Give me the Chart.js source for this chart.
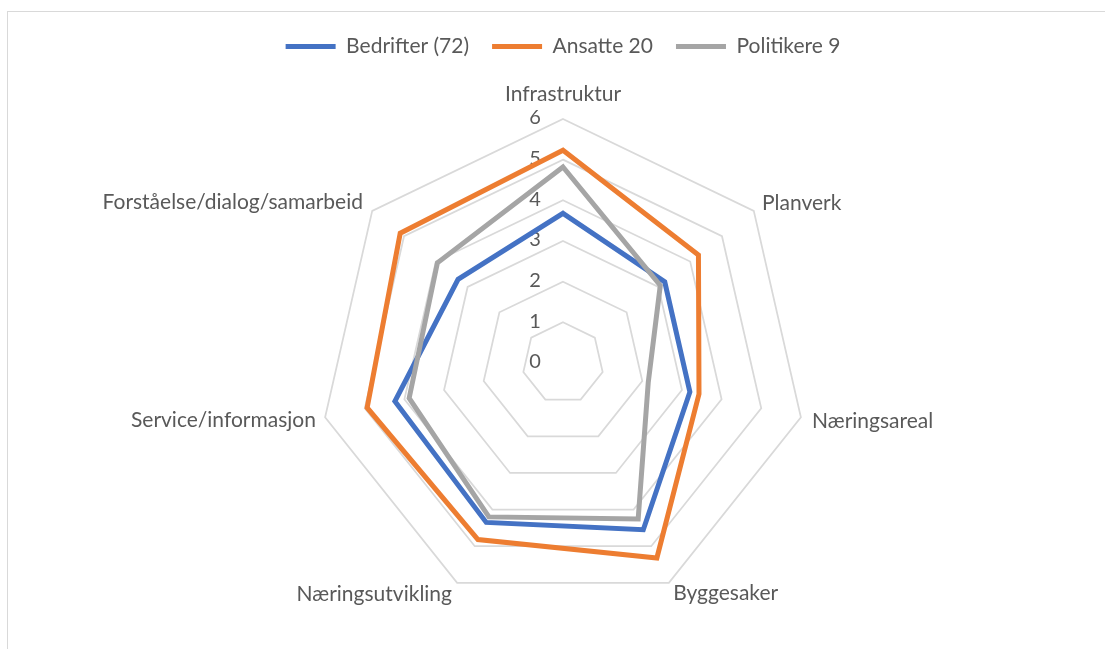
<!DOCTYPE html>
<html><head><meta charset="utf-8">
<script src="https://cdn.jsdelivr.net/npm/chart.js@4.4.0/dist/chart.umd.min.js"></script>
<style>
html,body{margin:0;padding:0;background:#fff;overflow:hidden;}
#wrap{position:relative;width:1105px;height:649px;overflow:hidden;}
#frame{position:absolute;left:7px;top:11px;width:1200px;height:800px;border:1px solid #d9d9d9;}
canvas{position:absolute;left:0;top:0;}
</style></head><body>
<div id="wrap"><div id="frame"></div><canvas id="c" width="1105" height="649"></canvas></div>
<script>
const categories = ['Infrastruktur','Planverk','Næringsareal','Byggesaker','Næringsutvikling','Service/informasjon','Forståelse/dialog/samarbeid'];
const seriesNames = ['Bedrifter (72)','Ansatte 20','Politikere 9'];
const bedrifter = [3.68, 3.2, 3.2, 4.55, 4.35, 4.24, 3.3];
const ansatte = [5.23, 4.26, 3.43, 5.32, 4.82, 4.94, 5.12];
const politikere = [4.82, 3.06, 2.15, 4.26, 4.2, 3.88, 3.95];
const tickLabels = ['0','1','2','3','4','5','6'];

const FONT = 'Lato';
const TXT = '#595959';

const tickPlugin = {
  id: 'leftTicks',
  beforeDatasetsDraw(chart) {
    const s = chart.scales.r;
    const ctx = chart.ctx;
    ctx.save();
    ctx.font = '20px ' + FONT;
    ctx.fillStyle = TXT;
    ctx.textAlign = 'center';
    ctx.textBaseline = 'middle';
    tickLabels.forEach(t => {
      const d = s.getDistanceFromCenterForValue(Number(t));
      ctx.fillText(t, s.xCenter - 28, s.yCenter - d - 1);
    });
    ctx.restore();
  }
};

function ds(label, data, color, order) {
  return {
    label, data, order,
    borderColor: color, backgroundColor: 'rgba(0,0,0,0)', fill: false,
    borderWidth: 5, borderJoinStyle: 'miter',
    pointRadius: 0, pointHoverRadius: 0, pointBorderWidth: 5,
    pointBorderColor: color, pointBackgroundColor: color
  };
}

new Chart(document.getElementById('c'), {
  type: 'radar',
  data: {
    labels: categories,
    datasets: [
      ds(seriesNames[0], bedrifter, '#4472C4', 3),
      ds(seriesNames[1], ansatte, '#ED7D31', 2),
      ds(seriesNames[2], politikere, '#A5A5A5', 1)
    ]
  },
  options: {
    responsive: false,
    animation: false,
    layout: { padding: { top: 13, left: 21, right: 0, bottom: 24 } },
    plugins: {
      tooltip: { enabled: false },
      legend: {
        position: 'top',
        labels: {
          usePointStyle: true, pointStyle: 'line', pointStyleWidth: 50,
          padding: 23, color: TXT, font: { family: FONT, size: 21 },
          sort: (a, b) => a.datasetIndex - b.datasetIndex
        }
      }
    },
    scales: {
      r: {
        min: 0, max: 6,
        ticks: { display: false, stepSize: 1 },
        grid: { color: '#d9d9d9', lineWidth: 1.75 },
        angleLines: { display: false },
        pointLabels: {
          color: TXT,
          font: (c) => ({ family: FONT, size: 21, lineHeight: c.index === 0 ? 0.952 : 0.1 }),
          padding: (c) => [15, 10.5, 11.4, 10, 11.8, 9.4, 11.8][c.index]
        }
      }
    }
  },
  plugins: [tickPlugin]
});
</script>
</body></html>
